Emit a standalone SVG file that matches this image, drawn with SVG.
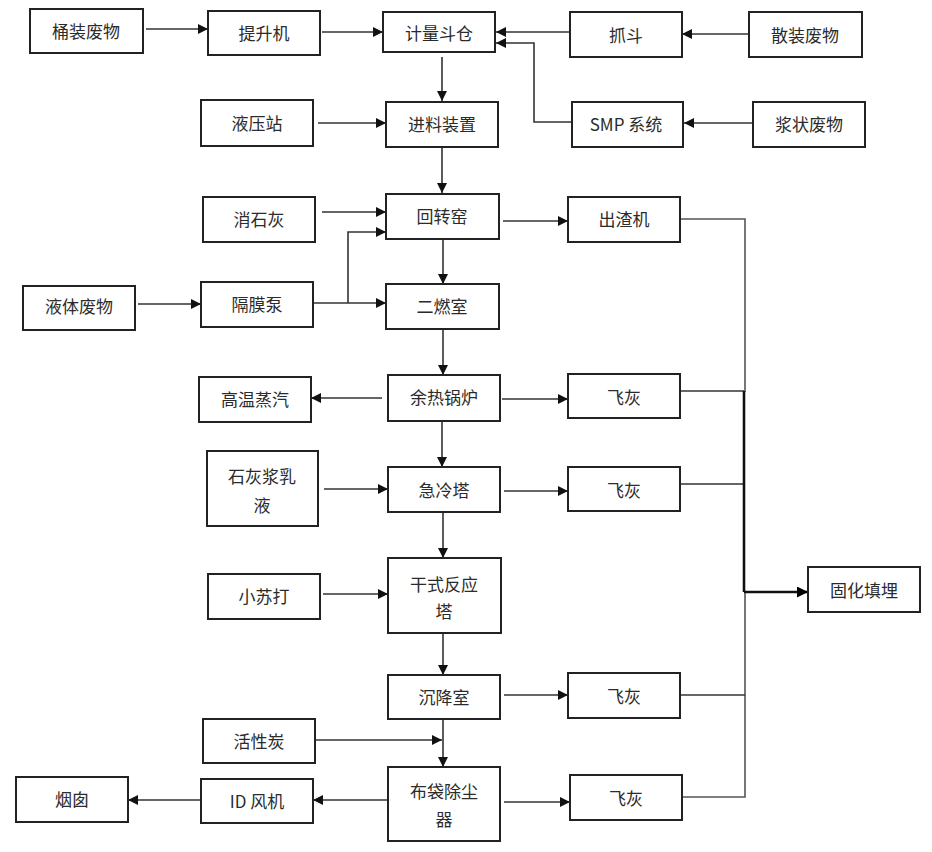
<svg xmlns="http://www.w3.org/2000/svg" width="932" height="852" viewBox="0 0 932 852">
<defs>
<marker id="ah" viewBox="0 0 10 10" refX="10" refY="5" markerWidth="11" markerHeight="10" markerUnits="userSpaceOnUse" orient="auto">
<path d="M0,0 L10,5 L0,10 z" fill="#111"/>
</marker>
<marker id="ahb" viewBox="0 0 10 10" refX="10" refY="5" markerWidth="13" markerHeight="11" markerUnits="userSpaceOnUse" orient="auto">
<path d="M0,0 L10,5 L0,10 z" fill="#000"/>
</marker>
</defs>
<style>
.box{fill:#fff;stroke:#222;stroke-width:2}
.t{font-family:"Noto Sans CJK SC","Noto Sans",sans-serif;font-size:17px;fill:#2b2b2b;text-anchor:middle;dominant-baseline:central}
.c{fill:none;stroke:#333;stroke-width:1.6}
.a{marker-end:url(#ah)}
.bus{fill:none;stroke:#555;stroke-width:1.6}
.busb{fill:none;stroke:#111;stroke-width:2.6}
</style>
<rect width="932" height="852" fill="#fff"/>

<g id="connectors">
<line class="c a" x1="146" y1="29" x2="208" y2="29"/>
<line class="c a" x1="322" y1="32" x2="383" y2="32"/>
<line class="c a" x1="749" y1="34" x2="682" y2="34"/>
<line class="c a" x1="570" y1="32" x2="496" y2="32"/>
<path class="c a" d="M572,122 H534 V43 H496"/>
<line class="c a" x1="753" y1="123" x2="684" y2="123"/>
<line class="c a" x1="442" y1="57" x2="442" y2="101"/>
<line class="c a" x1="318" y1="123" x2="386" y2="123"/>
<line class="c a" x1="442" y1="147" x2="442" y2="193"/>
<line class="c a" x1="322" y1="212" x2="386" y2="212"/>
<line class="c a" x1="138" y1="304" x2="201" y2="304"/>
<path class="c a" d="M313,303 H386"/>
<path class="c a" d="M348,303 V232 H386"/>
<line class="c a" x1="443" y1="239" x2="443" y2="284"/>
<line class="c a" x1="503" y1="221" x2="568" y2="221"/>
<line class="c a" x1="443" y1="329" x2="443" y2="375"/>
<line class="c a" x1="382" y1="398" x2="311" y2="398"/>
<line class="c a" x1="502" y1="399" x2="568" y2="399"/>
<line class="c a" x1="442" y1="421" x2="442" y2="467"/>
<line class="c a" x1="324" y1="489" x2="388" y2="489"/>
<line class="c a" x1="504" y1="491" x2="568" y2="491"/>
<line class="c a" x1="443" y1="512" x2="443" y2="558"/>
<line class="c a" x1="323" y1="594" x2="388" y2="594"/>
<line class="c a" x1="443" y1="633" x2="443" y2="675"/>
<line class="c a" x1="504" y1="695" x2="568" y2="695"/>
<line class="c a" x1="315" y1="740" x2="442" y2="740"/>
<line class="c a" x1="443" y1="719" x2="443" y2="767"/>
<line class="c a" x1="388" y1="800" x2="313" y2="800"/>
<line class="c a" x1="200" y1="800" x2="128" y2="800"/>
<line class="c a" x1="504" y1="802" x2="570" y2="802"/>
<path class="bus" d="M680,219 H745 V392"/>
<path class="c" d="M680,391 H744"/>
<path class="c" d="M680,484 H744"/>
<path class="busb" d="M744,391 V592"/>
<path class="bus" d="M745,592 V797 H682"/>
<path class="c" d="M680,695 H745"/>
<line class="busb" x1="744" y1="592" x2="808" y2="592" marker-end="url(#ahb)"/>
</g>

<g id="n1"><rect class="box" x="30" y="9" width="113" height="44"/><text class="t" x="86" y="30">桶装废物</text></g>
<g id="n2"><rect class="box" x="208" y="11" width="112" height="44"/><text class="t" x="264" y="32">提升机</text></g>
<g id="n3"><rect class="box" x="383" y="12" width="112" height="40"/><text class="t" x="439" y="32">计量斗仓</text></g>
<g id="n4"><rect class="box" x="570" y="12" width="112" height="45"/><text class="t" x="626" y="34">抓斗</text></g>
<g id="n5"><rect class="box" x="749" y="12" width="113" height="45"/><text class="t" x="805" y="34">散装废物</text></g>
<g id="n6"><rect class="box" x="201" y="100" width="112" height="46"/><text class="t" x="257" y="122">液压站</text></g>
<g id="n7"><rect class="box" x="386" y="102" width="112" height="45"/><text class="t" x="442" y="123">进料装置</text></g>
<g id="n8"><rect class="box" x="572" y="102" width="111" height="45"/><text class="t" x="626" y="123">SMP 系统</text></g>
<g id="n9"><rect class="box" x="753" y="102" width="112" height="45"/><text class="t" x="809" y="123">浆状废物</text></g>
<g id="n10"><rect class="box" x="203" y="197" width="112" height="45"/><text class="t" x="259" y="218">消石灰</text></g>
<g id="n11"><rect class="box" x="386" y="194" width="113" height="45"/><text class="t" x="442" y="215">回转窑</text></g>
<g id="n12"><rect class="box" x="568" y="197" width="112" height="45"/><text class="t" x="624" y="218">出渣机</text></g>
<g id="n13"><rect class="box" x="23" y="286" width="112" height="44"/><text class="t" x="79" y="305">液体废物</text></g>
<g id="n14"><rect class="box" x="201" y="282" width="112" height="45"/><text class="t" x="257" y="303">隔膜泵</text></g>
<g id="n15"><rect class="box" x="386" y="284" width="113" height="45"/><text class="t" x="442" y="305">二燃室</text></g>
<g id="n16"><rect class="box" x="199" y="377" width="112" height="45"/><text class="t" x="255" y="398">高温蒸汽</text></g>
<g id="n17"><rect class="box" x="388" y="375" width="112" height="46"/><text class="t" x="444" y="396">余热锅炉</text></g>
<g id="n18"><rect class="box" x="568" y="374" width="112" height="44"/><text class="t" x="624" y="396">飞灰</text></g>
<g id="n19"><rect class="box" x="207" y="451" width="111" height="75"/><text class="t" x="262" y="475">石灰浆乳</text><text class="t" x="262" y="504">液</text></g>
<g id="n20"><rect class="box" x="388" y="467" width="112" height="45"/><text class="t" x="444" y="489">急冷塔</text></g>
<g id="n21"><rect class="box" x="568" y="467" width="112" height="44"/><text class="t" x="624" y="489">飞灰</text></g>
<g id="n22"><rect class="box" x="208" y="574" width="112" height="45"/><text class="t" x="264" y="595">小苏打</text></g>
<g id="n23"><rect class="box" x="388" y="558" width="113" height="75"/><text class="t" x="444" y="583">干式反应</text><text class="t" x="444" y="610">塔</text></g>
<g id="n24"><rect class="box" x="808" y="567" width="112" height="45"/><text class="t" x="864" y="589">固化填埋</text></g>
<g id="n25"><rect class="box" x="388" y="675" width="112" height="44"/><text class="t" x="444" y="696">沉降室</text></g>
<g id="n26"><rect class="box" x="568" y="673" width="112" height="45"/><text class="t" x="624" y="695">飞灰</text></g>
<g id="n27"><rect class="box" x="203" y="719" width="112" height="44"/><text class="t" x="259" y="740">活性炭</text></g>
<g id="n28"><rect class="box" x="16" y="777" width="112" height="45"/><text class="t" x="72" y="798">烟囱</text></g>
<g id="n29"><rect class="box" x="201" y="779" width="112" height="44"/><text class="t" x="257" y="800">ID 风机</text></g>
<g id="n30"><rect class="box" x="388" y="767" width="112" height="74"/><text class="t" x="444" y="790">布袋除尘</text><text class="t" x="444" y="818">器</text></g>
<g id="n31"><rect class="box" x="570" y="775" width="112" height="45"/><text class="t" x="626" y="797">飞灰</text></g>
</svg>
